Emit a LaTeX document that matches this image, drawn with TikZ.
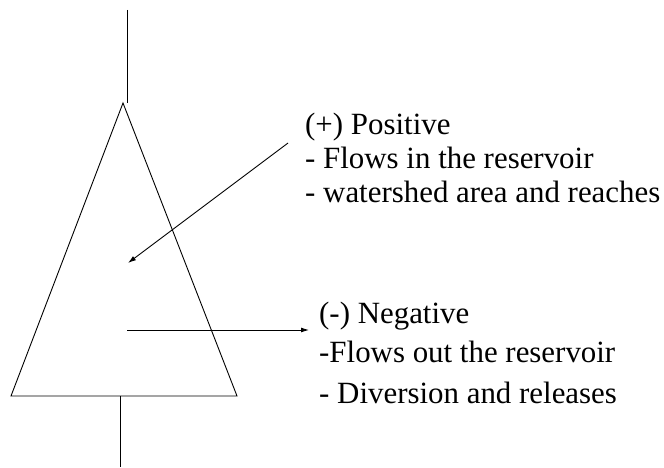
\documentclass[tikz,border=0pt]{standalone}
\usepackage{fontspec}
\setmainfont{Liberation Serif}
\usetikzlibrary{arrows.meta}
\begin{document}
\begin{tikzpicture}[x=1pt,y=-1pt,
  ln/.style={line width=0.9pt,black},
  arr/.style={line width=0.9pt,-{Latex[length=8pt,width=5pt]}},
  txt/.style={anchor=base west,inner sep=0pt,font=\fontsize{30.9}{34}\selectfont}]
\useasboundingbox (0,0) rectangle (664,468);
% triangle
\coordinate (apex) at (123,103);
\coordinate (bl) at (11,396);
\coordinate (br) at (237,396);
\draw[ln] (apex) -- (bl) -- (br) -- cycle;
% in/out lines
\coordinate (topA) at (127,10);
\coordinate (topB) at (127,103);
\coordinate (botA) at (120,396);
\coordinate (botB) at (120,467);
\draw[ln] (topA) -- (topB);
\draw[ln] (botA) -- (botB);
% arrows
\coordinate (inS) at (288,143);
\coordinate (inE) at (128,263);
\draw[arr] (inS) -- (inE);
\coordinate (outS) at (127,330);
\coordinate (outE) at (309,330);
\draw[arr] (outS) -- (outE);
% texts
\node[txt] (p1) at (305,135) {(+) Positive};
\node[txt] (p2) at (305,168.5) {- Flows in the reservoir};
\node[txt] (p3) at (305,202) {- watershed area and reaches};
\node[txt] (n1) at (319,323) {(-) Negative};
\node[txt] (n2) at (319,362) {-Flows out the reservoir};
\node[txt] (n3) at (319,403) {- Diversion and releases};
\end{tikzpicture}
\end{document}
